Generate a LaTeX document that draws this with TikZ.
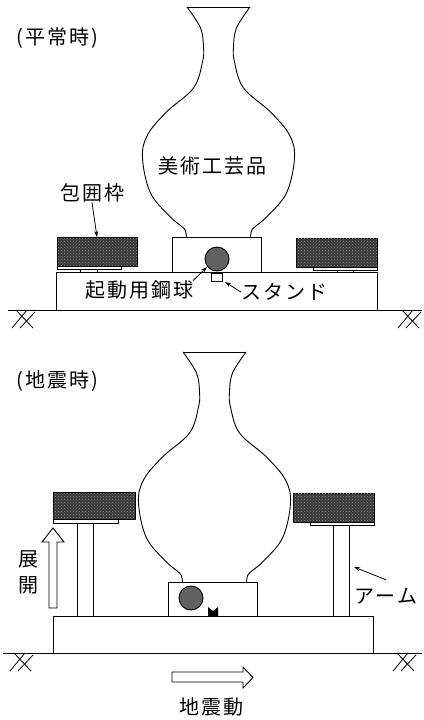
\documentclass[tikz,border=0pt]{standalone}
\usepackage{fontspec}
\newfontfamily\jp[LetterSpace=10]{Noto Sans CJK JP}
\usetikzlibrary{patterns,arrows.meta}

\tikzset{
  outline/.style={line width=0.9pt},
  framefill/.style={outline, fill=black!78, postaction={pattern=crosshatch dots, pattern color=black!45}},
  ballfill/.style={outline, fill=black!62},
  jptext/.style={font=\jp\fontsize{20}{26}\selectfont, inner sep=0pt},
  pointer/.style={line width=0.8pt, -{Stealth[length=6pt,width=4pt]}},
  hollow/.style={line width=0.9pt, line join=miter},
  % vase outline, origin at the middle of its foot
  vase/.pic={
    \draw[outline] plot[smooth, tension=0.6] coordinates {(-31.5,-230) (-18,-209) (-15,-190) (-16,-175) (-25,-149) (-52,-125) (-71,-102) (-76,-79) (-68,-44) (-48,-20) (-35,-9) (-32.5,-4) (-32,0)};
    \draw[outline] plot[smooth, tension=0.6] coordinates {(32,0) (32.5,-4) (35,-9) (48,-20) (68,-44) (76,-79) (71,-102) (52,-125) (25,-149) (16,-175) (15,-190) (18,-209) (31.5,-230)};
    \draw[outline] (-31.5,-230) -- (31.5,-230);
  },
  groundmark/.pic={
    \draw[line width=0.8pt] (2,0) -- (19,18) (13,0) -- (-2,18) (21,2) -- (6,18);
  }
}

\begin{document}
\begin{tikzpicture}[x=1pt, y=-1pt]
  \useasboundingbox (0,0) rectangle (423,720);

  % ---- normal state ----
  % ground and base
  \draw[outline] (8,310) -- (422,310);
  \pic at (14,310) {groundmark};
  \pic at (400,310) {groundmark};
  \draw[outline] (56,272) rectangle (377,310);
  % stand with steel ball
  \draw[outline] (172,237) rectangle (261,272);
  \draw[outline] (211,273) rectangle (222,281);
  \draw[ballfill] (217,259) circle (12);
  \pic at (218.5,237) {vase};
  % enclosure frames, folded down
  \draw[framefill] (57,237) rectangle (137,266);
  \draw[outline] (57,266) rectangle (121,269);
  \draw[outline] (80,269) -- (80,272) (97,269) -- (97,272);
  \draw[framefill] (296,238) rectangle (377,267);
  \draw[outline] (313,267) rectangle (377,270);
  \draw[outline] (337,270) -- (337,272) (353,270) -- (353,272);

  % Labels
  \node[jptext] (normal) at (57,38) {(平常時)};
  \node[jptext] (artwork) at (212,166) {美術工芸品};
  \node[jptext] (enclosure) at (92,193) {包囲枠};
  \node[jptext] (balllbl) at (139,290) {起動用鋼球};
  \node[jptext] (standlbl) at (284,292) {スタンド};
  \coordinate (frametop) at (97,237);
  \coordinate (ballhit) at (207,267);
  \coordinate (standhit) at (225,282);
  \draw[pointer] (enclosure.south) -- (frametop);
  \draw[pointer] (balllbl.north east) -- (ballhit);
  \draw[pointer] (standlbl.west) -- (standhit);

  % ---- during an earthquake ----
  \draw[outline] (3,653) -- (422,653);
  \pic at (12,653) {groundmark};
  \pic at (395,653) {groundmark};
  \draw[outline] (53,616) rectangle (373,653);
  \draw[outline] (168,582) rectangle (257,616);
  \fill (208,607) -- (213,611) -- (218,607) -- (218,616) -- (208,616) -- cycle;
  \draw[ballfill] (191,598) circle (12);
  \pic at (214.5,582) {vase};
  % frames raised on their arms
  \draw[framefill] (53,492) rectangle (135,519);
  \draw[outline] (53,519) rectangle (118,523);
  \draw[outline] (77,523) -- (77,616) (93,523) -- (93,616);
  \draw[framefill] (293,493) rectangle (374,522);
  \draw[outline] (310,522) rectangle (374,525);
  \draw[outline] (333,525) -- (333,616) (349,525) -- (349,616);
  % hollow arrows
  \draw[hollow] (49,608) -- (49,542) -- (42,542) -- (53,528) -- (64,542) -- (57,542) -- (57,608) -- cycle;
  \draw[hollow] (172,672) -- (243,672) -- (243,667) -- (253,677.5) -- (243,688) -- (243,682) -- (172,682) -- cycle;

  % Labels
  \node[jptext] (quake) at (57,381) {(地震時)};
  \node[jptext, align=center] (deploy) at (28,572) {展\\開};
  \node[jptext] (armlbl) at (386,596) {アーム};
  \node[jptext] (motion) at (211,707) {地震動};
  \coordinate (armhit) at (354,567);
  \draw[pointer] ([yshift=8pt]armlbl.north) -- (armhit);

\end{tikzpicture}
\end{document}
